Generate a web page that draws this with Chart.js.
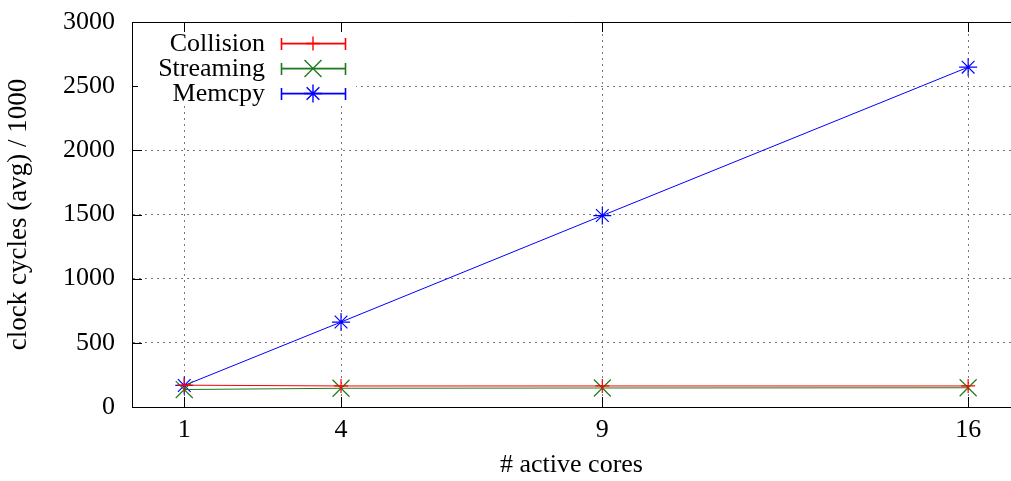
<!DOCTYPE html>
<html>
<head>
<meta charset="utf-8">
<script src="https://cdn.jsdelivr.net/npm/chart.js@4.4.1/dist/chart.umd.min.js"></script>
<style>
  html, body { margin: 0; padding: 0; background: #fff; overflow: hidden; }
</style>
</head>
<body>
<canvas id="chart" width="1011" height="481"></canvas>
<script>
// data
const cores = [1, 4, 9, 16];
const collision = [170, 164, 164, 164];
const streaming = [136, 146, 148, 150];
const memcpy = [168, 662, 1492, 2648];
const yTicks = [0, 500, 1000, 1500, 2000, 2500, 3000];

const serif = "'Liberation Serif', 'DejaVu Serif', serif";

// gnuplot-ish frame: top line, inward ticks, opaque key box
const gnuplotFrame = {
  id: 'gnuplotFrame',
  beforeDatasetsDraw(chart) {
    const ctx = chart.ctx;
    const a = chart.chartArea;
    const xs = chart.scales.x, ys = chart.scales.y;
    ctx.save();
    ctx.setLineDash([]);
    ctx.strokeStyle = '#000';
    ctx.lineWidth = 1;
    ctx.beginPath();
    // top border
    ctx.moveTo(a.left, a.top + 0.5);
    ctx.lineTo(a.right, a.top + 0.5);
    // inward ticks
    yTicks.forEach(v => {
      const y = Math.round(ys.getPixelForValue(v)) + 0.5;
      ctx.moveTo(a.left, y);
      ctx.lineTo(a.left + 10, y);
    });
    cores.forEach(v => {
      const x = Math.round(xs.getPixelForValue(v)) + 0.5;
      ctx.moveTo(x, a.bottom);
      ctx.lineTo(x, a.bottom - 10);
      ctx.moveTo(x, a.top);
      ctx.lineTo(x, a.top + 10);
    });
    ctx.stroke();
    // key box covers the grid
    ctx.fillStyle = '#fff';
    ctx.fillRect(a.left + 6, 34, 356 - a.left - 6, 72);
    ctx.restore();
  },
  afterDatasetsDraw(chart) {
    const ctx = chart.ctx;
    ctx.save();
    ctx.setLineDash([]);
    ctx.font = '26px ' + serif;
    ctx.textAlign = 'right';
    ctx.textBaseline = 'middle';
    chart.data.datasets.forEach((ds, i) => {
      const y = 43 + i * 25;
      const col = ds.borderColor;
      ctx.fillStyle = '#000';
      ctx.fillText(ds.label, 265, y + 1);
      // sample line with end bars
      ctx.fillStyle = col;
      ctx.fillRect(281, y - 0.3, 65, 1.8);
      ctx.fillRect(280.7, y - 5, 1.6, 12);
      ctx.fillRect(344.7, y - 5, 1.6, 12);
      ctx.strokeStyle = col;
      ctx.lineWidth = 1.4;
      Chart.helpers.drawPoint(ctx, {
        pointStyle: ds.pointStyle,
        radius: ds.pointRadius,
        borderWidth: 1.4
      }, 313, y + 0.5);
    });
    ctx.restore();
  }
};

new Chart(document.getElementById('chart'), {
  type: 'line',
  data: {
    datasets: [
      {
        label: 'Collision',
        data: cores.map((c, i) => ({ x: c, y: collision[i] })),
        borderColor: '#ff0000',
        backgroundColor: '#ff0000',
        pointStyle: 'cross',
        pointRadius: 7
      },
      {
        label: 'Streaming',
        data: cores.map((c, i) => ({ x: c, y: streaming[i] })),
        borderColor: '#1f7a1f',
        backgroundColor: '#1f7a1f',
        pointStyle: 'crossRot',
        pointRadius: 12
      },
      {
        label: 'Memcpy',
        data: cores.map((c, i) => ({ x: c, y: memcpy[i] })),
        borderColor: '#0000ff',
        backgroundColor: '#0000ff',
        pointStyle: 'star',
        pointRadius: 9
      }
    ]
  },
  options: {
    responsive: false,
    animation: false,
    devicePixelRatio: 1,
    layout: { autoPadding: false, padding: { top: 22, right: 0, left: 0, bottom: 0 } },
    elements: {
      line: { borderWidth: 1, tension: 0 },
      point: { borderWidth: 1.2, hoverRadius: 9 }
    },
    plugins: {
      legend: { display: false },
      tooltip: { enabled: false }
    },
    scales: {
      x: {
        type: 'linear',
        min: 0,
        max: 16.82,
        afterBuildTicks: s => { s.ticks = cores.map(v => ({ value: v })); },
        afterFit: s => { s.height = 74; s.paddingLeft = 0; s.paddingRight = 0; },
        border: { display: true, color: '#000', width: 1, dash: [2, 4] },
        grid: { color: '#777', lineWidth: 1, drawTicks: false },
        ticks: {
          color: '#000',
          font: { family: serif, size: 26 },
          padding: 8,
          maxRotation: 0,
          callback: v => String(v)
        },
        title: {
          display: true,
          text: '# active cores',
          color: '#000',
          font: { family: serif, size: 26 },
          padding: { top: 0, bottom: 0 }
        }
      },
      y: {
        min: 0,
        max: 3000,
        afterBuildTicks: s => { s.ticks = yTicks.map(v => ({ value: v })); },
        afterFit: s => { s.width = 132; s.paddingTop = 0; s.paddingBottom = 0; },
        border: { display: true, color: '#000', width: 1, dash: [2, 4] },
        grid: { color: '#777', lineWidth: 1, drawTicks: false },
        ticks: {
          color: '#000',
          font: { family: serif, size: 26 },
          padding: 17,
          callback: v => String(v)
        },
        title: {
          display: true,
          text: 'clock cycles (avg) / 1000',
          color: '#000',
          font: { family: serif, size: 27 },
          padding: { top: 3, bottom: 0 }
        }
      }
    }
  },
  plugins: [gnuplotFrame]
});
</script>
</body>
</html>
